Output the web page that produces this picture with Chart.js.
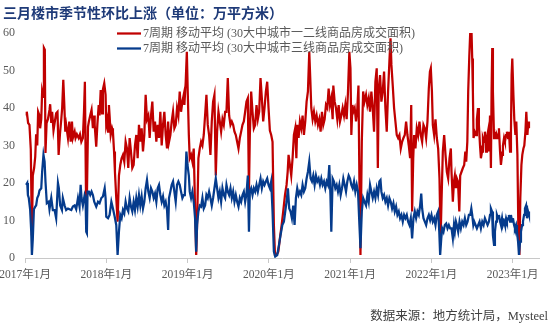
<!DOCTYPE html>
<html lang="zh-CN">
<head>
<meta charset="utf-8">
<title>三月楼市季节性环比上涨</title>
<script src="https://cdn.jsdelivr.net/npm/chart.js@4/dist/chart.umd.min.js"></script>
<style>
    html, body { margin: 0; padding: 0; background: #ffffff; }
    #myChart { display: block; }
</style>
</head>
<body>
<canvas id="myChart" width="551" height="327"></canvas>
<script>
// [day since 2017-01-01, 7周期移动平均 万平方米]
const tier12 = [
    [5, 38], [8, 39], [14, 36], [20, 35.5], [26, 29], [31, 6], [35, 22], [41, 24], [46, 27], [50, 33],
    [55, 30], [59, 39], [65, 38], [68, 34.6], [73, 37], [77, 44.5], [82, 43], [85, 56], [89, 55.5], [92, 28],
    [97, 36], [103, 37], [110, 39.5], [113, 41], [118, 36], [122, 39], [128, 34], [133, 36], [140, 38.6], [146, 39],
    [151, 27.5], [157, 33], [163, 37], [167, 40], [172, 47.5], [176, 41.7], [181, 33.7], [185, 35.5], [193, 32], [199, 36.4],
    [205, 31], [211, 36.4], [215, 32], [223, 33.7], [227, 32], [233, 33], [241, 32], [247, 33], [253, 31], [260, 32],
    [265, 39], [269, 47], [274, 17], [278, 16], [283, 35], [287, 36.4], [293, 38], [299, 39.5], [305, 34.6], [310, 38],
    [313, 35.5], [320, 29.7], [325, 35.5], [331, 40.8], [335, 38], [340, 44.8], [346, 38.6], [350, 45], [356, 46.6], [362, 43.5],
    [365, 35.5], [370, 37], [373, 33.7], [377, 40.8], [380, 38], [385, 32.8], [391, 34.6], [395, 33.7], [400, 28.4], [404, 23],
    [410, 16], [416, 9.7], [422, 22], [428, 24.8], [434, 26.6], [440, 27.5], [446, 25.7], [452, 31], [458, 29.2], [464, 24],
    [470, 32], [476, 28.4], [482, 24], [488, 24.8], [494, 30], [500, 32.8], [506, 26.6], [512, 35.5], [518, 31], [524, 34.6],
    [530, 28.4], [536, 32.8], [542, 43.5], [548, 37], [554, 38], [560, 32], [566, 38], [572, 41.7], [578, 33.7], [584, 36.4],
    [590, 31], [596, 35.5], [602, 32], [608, 39], [614, 30], [620, 35.5], [626, 39], [632, 32.8], [638, 29.2], [643, 36.4],
    [647, 31], [653, 32.8], [659, 36.4], [665, 39], [671, 34.6], [677, 35.5], [683, 40], [689, 38], [695, 44.4], [701, 39],
    [707, 41.7], [713, 43.5], [716, 40.8], [722, 47], [727, 55], [731, 44.4], [736, 32.8], [740, 26.6], [746, 27.5], [752, 25.7],
    [758, 29.2], [764, 13.2], [769, 0.8], [773, 8.8], [779, 26.6], [785, 29.2], [791, 31], [797, 30], [803, 32.8], [809, 38],
    [815, 43.5], [821, 35.5], [827, 32.8], [833, 27.5], [839, 36.4], [845, 41.7], [851, 43.5], [857, 22], [863, 33.7], [869, 39],
    [875, 36.4], [881, 33.7], [887, 37], [893, 35.5], [899, 39], [905, 39], [911, 48], [917, 38], [923, 35.5], [929, 36.4],
    [935, 35.5], [941, 33.7], [947, 32.8], [953, 31], [959, 29.2], [965, 32], [971, 33.7], [977, 35.5], [983, 36.4], [989, 39],
    [995, 41.7], [1001, 42.6], [1006, 17.7], [1010, 32.8], [1016, 44.4], [1022, 39], [1028, 34.6], [1034, 35.5], [1040, 40.8], [1046, 37],
    [1052, 39], [1058, 48], [1064, 42.6], [1070, 36.4], [1076, 40], [1082, 44.4], [1088, 47], [1094, 40], [1100, 34], [1106, 32.8],
    [1112, 31], [1118, 8.8], [1123, 0.8], [1130, 0.8], [1138, 1.7], [1145, 5.2], [1153, 8.8], [1160, 12.4], [1168, 16.8], [1175, 19.5],
    [1180, 23], [1184, 27.5], [1190, 24.8], [1196, 22], [1202, 26.6], [1208, 32.8], [1214, 34.6], [1219, 26.6], [1223, 35.5], [1229, 32],
    [1235, 36.4], [1241, 34.6], [1247, 38], [1253, 32.8], [1259, 36.4], [1265, 41.7], [1271, 44.4], [1277, 55], [1282, 47], [1286, 40],
    [1292, 37], [1298, 39], [1304, 36.4], [1310, 38], [1316, 35.5], [1322, 37], [1328, 33.7], [1334, 39], [1340, 35.5], [1346, 37],
    [1352, 40.8], [1358, 40], [1364, 45.2], [1370, 40.8], [1376, 42.6], [1382, 37], [1385, 46], [1391, 41.7], [1397, 40], [1403, 37],
    [1409, 40.8], [1415, 36.4], [1421, 38], [1427, 40], [1433, 38], [1439, 40.8], [1445, 37], [1451, 44.4], [1457, 55], [1462, 50.6],
    [1466, 32.8], [1471, 40.8], [1475, 39], [1481, 40], [1487, 36.4], [1493, 40], [1498, 46], [1502, 22], [1507, 0.8], [1513, 31],
    [1519, 44.4], [1525, 41.7], [1532, 43.5], [1538, 40.8], [1544, 42.6], [1550, 39], [1556, 44.4], [1562, 40], [1568, 33.7], [1574, 47],
    [1580, 50.6], [1585, 24], [1589, 45.2], [1595, 48.8], [1601, 41.7], [1607, 44.4], [1613, 49.7], [1619, 40], [1625, 33.7], [1631, 44.4],
    [1637, 52.4], [1642, 58.6], [1646, 51.5], [1652, 46], [1658, 40], [1664, 36.4], [1670, 32.8], [1676, 32], [1682, 32.8], [1688, 29.2],
    [1694, 31], [1700, 32], [1706, 32.8], [1712, 36.4], [1718, 32.8], [1724, 30], [1730, 26.6], [1735, 40.8], [1739, 12.4], [1744, 26.6],
    [1748, 32.8], [1754, 29.2], [1760, 34.6], [1766, 32.8], [1772, 36.4], [1778, 32.8], [1784, 31], [1790, 35.5], [1796, 34.6], [1802, 32],
    [1808, 36.4], [1814, 45.2], [1819, 49.7], [1823, 50.6], [1828, 44.4], [1832, 35.5], [1838, 32.8], [1844, 37], [1850, 32], [1856, 29.2],
    [1862, 21.2], [1867, 5.2], [1871, 15], [1877, 28.4], [1883, 32.8], [1889, 27.5], [1895, 23], [1901, 21.2], [1907, 26.6], [1913, 29.2],
    [1916, 23], [1922, 15], [1927, 20.4], [1931, 22], [1936, 18.6], [1940, 21.2], [1945, 20.4], [1951, 12.4], [1955, 22], [1961, 23],
    [1967, 24], [1973, 24.8], [1978, 28.4], [1982, 25.7], [1987, 31], [1991, 44.4], [1996, 54], [2000, 60], [2006, 60], [2009, 53.2],
    [2012, 44.4], [2015, 32], [2020, 33.7], [2026, 32.8], [2030, 37], [2035, 40], [2039, 35.5], [2044, 30], [2048, 26.6], [2053, 28.4],
    [2057, 32], [2062, 31], [2066, 33.7], [2071, 28.4], [2075, 32], [2080, 33.7], [2084, 28.4], [2089, 38], [2093, 24], [2096, 44.4],
    [2099, 56], [2102, 44.4], [2107, 32], [2111, 33.7], [2116, 32], [2120, 32.8], [2125, 32], [2129, 34.6], [2134, 28.4], [2138, 24.8],
    [2143, 27.5], [2147, 30], [2152, 32], [2156, 31], [2161, 32.8], [2165, 33.7], [2170, 32], [2174, 33.7], [2179, 28.4], [2183, 33.7],
    [2186, 48.8], [2189, 53.2], [2194, 43.5], [2198, 37], [2203, 32.8], [2207, 36.4], [2212, 27.5], [2216, 8.8], [2221, 0.8], [2225, 16],
    [2230, 24.8], [2234, 27.5], [2239, 29.2], [2243, 30], [2248, 33.7], [2252, 39], [2257, 32.8], [2261, 36.4], [2264, 34.6],
];

const tier3 = [
    [5, 19.5], [10, 20], [13, 16.8], [17, 16], [23, 13], [28, 7], [31, 0.8], [35, 5], [40, 13], [46, 13.7],
    [50, 14], [55, 16], [61, 16.8], [65, 18], [73, 18.6], [77, 23], [83, 27.5], [88, 25.7], [92, 20.4], [98, 14.6],
    [106, 15], [110, 13], [118, 16], [125, 12.8], [133, 12.8], [140, 10.6], [148, 20], [152, 18.6], [158, 14], [166, 12.8],
    [170, 16], [178, 14], [185, 12.8], [193, 13.2], [200, 13], [208, 12.8], [215, 13.7], [223, 14], [230, 13], [238, 16],
    [245, 13.7], [250, 19.5], [254, 16], [260, 14], [268, 16.8], [272, 16], [275, 7], [278, 6.6], [281, 17.7], [287, 17.7],
    [293, 16.8], [299, 17.7], [305, 16.8], [311, 15], [313, 15], [320, 13.7], [328, 15], [335, 14.6], [343, 16], [350, 16.4],
    [358, 18.6], [362, 16], [365, 11], [373, 10.6], [380, 11.5], [388, 15], [395, 13.2], [403, 11], [410, 8.8], [416, 0.8],
    [422, 7], [428, 11.5], [434, 10.6], [440, 12.8], [446, 11.9], [452, 15], [458, 13.2], [464, 12.4], [470, 16], [476, 13.7],
    [482, 12.4], [488, 15], [494, 12.8], [500, 16], [506, 13.7], [512, 16.8], [518, 14], [524, 16.4], [530, 13.2], [536, 15],
    [542, 18.6], [548, 20.8], [554, 17.7], [560, 16], [566, 18.6], [572, 17.7], [578, 16], [584, 17.2], [590, 15], [596, 18.6],
    [602, 19.5], [608, 16.8], [614, 15], [620, 16.4], [626, 14], [632, 15], [638, 12.8], [643, 7.5], [647, 16], [653, 17.7],
    [659, 19.5], [665, 20.4], [671, 17.7], [677, 15], [683, 19.5], [689, 20.4], [695, 19.5], [701, 17.7], [707, 16], [713, 16.8],
    [718, 16.8], [725, 28.4], [730, 24.8], [736, 22], [740, 17.7], [746, 16], [752, 17.7], [758, 15], [764, 10.6], [769, 1.7],
    [773, 8.8], [779, 12.4], [785, 14], [791, 13.7], [797, 16], [803, 13.2], [809, 14], [815, 16.8], [821, 16], [827, 17.7],
    [833, 16], [839, 14], [845, 16], [851, 18.6], [857, 21.2], [863, 18.6], [869, 16], [875, 17.7], [881, 15], [887, 18.6],
    [893, 16.8], [899, 16], [905, 19.5], [911, 17.7], [917, 16.8], [923, 18.6], [929, 16], [935, 17.7], [941, 15], [947, 16.8],
    [953, 15], [959, 13.7], [965, 16], [971, 15], [977, 16.8], [983, 17.7], [989, 15], [995, 17.2], [1001, 22], [1006, 7],
    [1010, 17.7], [1016, 18.6], [1022, 16.8], [1028, 18.6], [1034, 17.7], [1040, 19.5], [1046, 17.7], [1052, 19.5], [1058, 21.2], [1064, 18.6],
    [1070, 20.4], [1076, 19.5], [1082, 20.4], [1088, 21.2], [1094, 19.5], [1100, 18.6], [1106, 20.4], [1112, 12.4], [1118, 1.7], [1124, 0.4],
    [1133, 0.8], [1141, 3.5], [1148, 6.1], [1156, 8.8], [1163, 9.7], [1169, 12.4], [1175, 15], [1181, 18.6], [1187, 13.2], [1193, 12.4],
    [1199, 10.6], [1205, 14], [1211, 8.8], [1217, 16], [1223, 18.6], [1229, 16.8], [1235, 17.7], [1241, 16.8], [1247, 19.5], [1253, 17.7],
    [1259, 18.6], [1265, 21.2], [1271, 23], [1277, 25.7], [1283, 21.2], [1289, 20.4], [1295, 22], [1301, 19.5], [1307, 22], [1313, 20.4],
    [1319, 21.2], [1325, 19.5], [1331, 21.2], [1337, 19.5], [1343, 20.4], [1349, 18.6], [1355, 20.4], [1361, 19.5], [1367, 24.8], [1372, 16.8],
    [1376, 7], [1382, 21.2], [1388, 20.4], [1394, 18.6], [1400, 19.5], [1406, 17.7], [1412, 19.5], [1418, 16.8], [1424, 18.6], [1430, 21.2],
    [1436, 19.5], [1442, 17.7], [1448, 20.4], [1454, 22], [1460, 21.2], [1466, 19.5], [1472, 18.6], [1478, 20.4], [1484, 17.7], [1490, 19.5],
    [1496, 17.7], [1501, 10.6], [1507, 2.6], [1513, 12.4], [1519, 16], [1525, 15], [1532, 14], [1538, 16.8], [1544, 15], [1550, 19.5],
    [1556, 17.7], [1562, 16], [1568, 17.7], [1574, 16], [1580, 18.6], [1586, 16.8], [1592, 20.4], [1597, 20.8], [1601, 17.7], [1607, 16],
    [1613, 16.8], [1619, 15], [1625, 16], [1631, 14], [1637, 16], [1643, 15], [1649, 13.2], [1655, 14.6], [1661, 12.4], [1667, 13.7],
    [1673, 11.5], [1679, 12.4], [1685, 10.6], [1691, 11.5], [1697, 9.7], [1703, 11.5], [1709, 10.6], [1715, 11.5], [1721, 9.7], [1727, 8.8],
    [1733, 10.6], [1739, 5.2], [1745, 10.6], [1751, 12.4], [1757, 10.6], [1763, 12.4], [1769, 11.5], [1775, 14], [1780, 17.2], [1784, 13.2],
    [1790, 10.6], [1796, 9.7], [1802, 8.8], [1808, 10.6], [1814, 11.5], [1820, 10.1], [1826, 11.5], [1832, 9.7], [1838, 10.6], [1844, 8.8],
    [1850, 11.5], [1856, 12.4], [1861, 7], [1865, 0.8], [1870, 5.2], [1874, 7.9], [1880, 7], [1886, 8.8], [1892, 9.2], [1898, 7.9],
    [1904, 8.8], [1910, 7.9], [1916, 7.9], [1922, 5.2], [1927, 8.8], [1931, 7], [1936, 9.7], [1940, 8.8], [1946, 7], [1952, 9.7],
    [1958, 7.9], [1964, 9.7], [1970, 8.8], [1976, 10.6], [1982, 8.8], [1988, 9.7], [1994, 11.5], [2000, 11.5], [2005, 13.2], [2009, 11.5],
    [2014, 8.8], [2018, 9.7], [2024, 8.8], [2030, 7.9], [2036, 8.8], [2042, 9.7], [2048, 7.9], [2054, 9.7], [2060, 8.8], [2066, 10.6],
    [2072, 9.7], [2078, 8.8], [2084, 9.7], [2089, 11.5], [2093, 13.2], [2098, 12.4], [2102, 6.1], [2107, 3.5], [2111, 7], [2116, 9.7],
    [2120, 11.5], [2125, 10.6], [2129, 11.5], [2134, 9.7], [2138, 8.8], [2143, 10.6], [2147, 8.8], [2152, 9.7], [2156, 8.8], [2161, 10.6],
    [2165, 9.7], [2170, 10.6], [2174, 11.5], [2179, 9.7], [2183, 11.5], [2188, 9.7], [2192, 10.6], [2197, 8.8], [2201, 7.9], [2206, 8.8],
    [2210, 7], [2215, 4.4], [2219, 0.8], [2224, 4.4], [2228, 7], [2233, 8.8], [2237, 9.7], [2242, 11.5], [2246, 13.2], [2251, 14],
    [2255, 10.6], [2260, 12.4], [2264, 11.5],
];

const yearStarts = [0, 365, 730, 1095, 1461, 1826, 2191];
const yearLabels = ["2017年1月", "2018年1月", "2019年1月", "2020年1月", "2021年1月", "2022年1月", "2023年1月"];
const yTicks = [0, 10, 20, 30, 40, 50, 60];

const tier12Label = "7周期 移动平均 (30大中城市一二线商品房成交面积)";
const tier3Label = "7周期 移动平均 (30大中城市三线商品房成交面积)";

const toPoints = (rows) => rows.map(([day, value]) => ({ x: day, y: value }));

// legend drawn inside the plot, no box, lines run under the text
const innerLegend = {
    id: "innerLegend",
    afterDraw(chart) {
        const ctx = chart.ctx;
        ctx.save();
        ctx.font = "12px 'Liberation Serif', 'Noto Sans CJK SC'";
        ctx.textBaseline = "middle";
        ctx.textAlign = "left";
        chart.data.datasets.forEach((ds, i) => {
            const y = 33.5 + i * 15;
            ctx.strokeStyle = ds.borderColor;
            ctx.lineWidth = 2.25;
            ctx.beginPath();
            ctx.moveTo(117, y);
            ctx.lineTo(141, y);
            ctx.stroke();
            ctx.fillStyle = "#595959";
            ctx.fillText(ds.label, 143, y);
        });
        ctx.restore();
    },
};

const ctx = document.getElementById("myChart");
const myChart = new Chart(ctx, {
    type: "line",
    data: {
        datasets: [
            {
                label: tier12Label,
                data: toPoints(tier12),
                borderColor: "#c00000",
                backgroundColor: "#c00000",
                borderWidth: 2.25,
                pointRadius: 0,
                tension: 0,
                order: 1,
            },
            {
                label: tier3Label,
                data: toPoints(tier3),
                borderColor: "#053b8c",
                backgroundColor: "#053b8c",
                borderWidth: 2.25,
                pointRadius: 0,
                tension: 0,
                order: 0,
            },
        ],
    },
    options: {
        responsive: false,
        animation: false,
        devicePixelRatio: 1,
        layout: { padding: { left: 3, right: 3, top: 0, bottom: 0 } },
        plugins: {
            legend: { display: false },
            tooltip: { enabled: false },
            title: {
                display: true,
                text: "三月楼市季节性环比上涨（单位：万平方米）",
                align: "start",
                color: "#1e3a78",
                font: { family: "'Noto Sans CJK SC'", size: 14, weight: "bold", lineHeight: 1.2 },
                padding: { top: 4.4, bottom: 11.8 },
            },
            subtitle: {
                display: true,
                position: "bottom",
                align: "end",
                text: "数据来源：地方统计局，Mysteel",
                color: "#404040",
                font: { family: "'Liberation Serif', 'Noto Sans CJK SC'", size: 12.5, lineHeight: 1.2 },
                padding: { top: 0, bottom: 2.5 },
            },
        },
        scales: {
            x: {
                type: "linear",
                min: 0,
                max: 2309,
                afterBuildTicks: (scale) => {
                    scale.ticks = yearStarts.map((v) => ({ value: v }));
                },
                afterFit: (scale) => {
                    scale.height = 51.5;
                    scale.paddingLeft = 0;
                    scale.paddingRight = 12;
                },
                ticks: {
                    autoSkip: false,
                    maxRotation: 0,
                    padding: 5,
                    color: "#595959",
                    font: { family: "'Liberation Serif', 'Noto Sans CJK SC'", size: 11.5 },
                    callback: (v) => yearLabels[yearStarts.indexOf(v)],
                },
                grid: {
                    drawOnChartArea: false,
                    drawTicks: true,
                    tickLength: 5,
                    color: "#c8c8c8",
                },
                border: { color: "#c8c8c8", width: 1 },
            },
            y: {
                min: 0,
                max: 60,
                afterBuildTicks: (scale) => {
                    scale.ticks = yTicks.map((v) => ({ value: v }));
                },
                afterFit: (scale) => {
                    scale.width = 22;
                },
                ticks: {
                    padding: 10,
                    color: "#595959",
                    font: { family: "'Liberation Serif', 'Noto Sans CJK SC'", size: 12 },
                },
                grid: { display: false, drawTicks: false },
                border: { display: false },
            },
        },
    },
    plugins: [innerLegend],
});
</script>
</body>
</html>
